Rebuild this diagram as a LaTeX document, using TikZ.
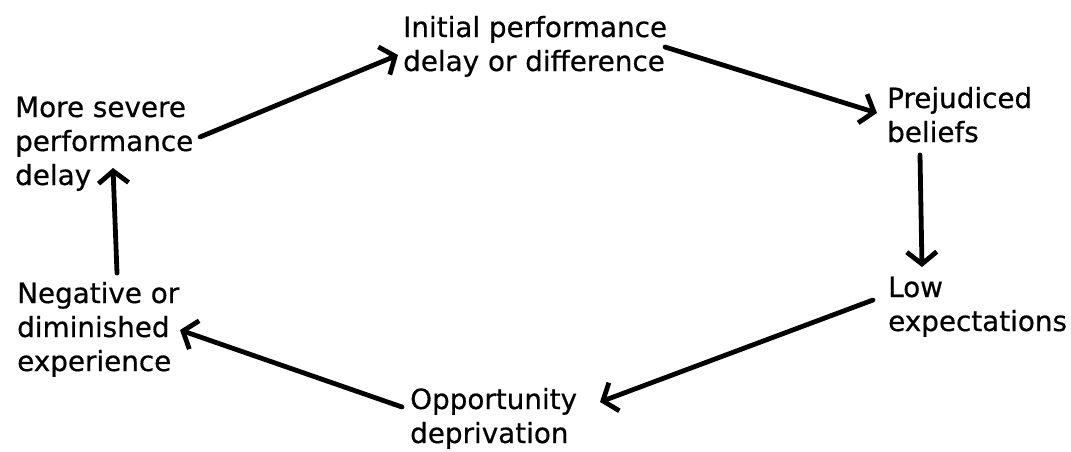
\documentclass[tikz,border=0pt]{standalone}
\usepackage{fontspec}
\setmainfont[FakeBold=0.6]{DejaVu Sans}
\usetikzlibrary{arrows.meta}
\tikzset{
  lbl/.style={anchor=base west, inner sep=0pt, font=\fontsize{27.8}{34}\selectfont},
  arr/.style={line width=4.8pt, line cap=round, -{Straight Barb[length=12pt,width=30pt,line width=4.8pt]}}
}
\newcommand{\twolines}[2]{\vtop{\hbox{#1}\hbox{#2}}}
\newcommand{\threelines}[3]{\vtop{\hbox{#1}\hbox{#2}\hbox{#3}}}
\begin{document}
\begin{tikzpicture}[x=1pt,y=-1pt]
\useasboundingbox (0,0) rectangle (1071,451);
\node[lbl] (ms) at (15,117) {\threelines{More severe}{performance}{delay}};
\node[lbl] (ip) at (403,37) {\twolines{Initial performance}{delay or difference}};
\node[lbl] (pb) at (887,108) {\twolines{Prejudiced}{beliefs}};
\node[lbl] (le) at (888,297) {\twolines{Low}{expectations}};
\node[lbl] (od) at (410,409) {\twolines{Opportunity}{deprivation}};
\node[lbl] (nd) at (17,303) {\threelines{Negative or}{diminished}{experience}};
\draw[arr] ([shift={(185,20)}]ms.base west) -- ([shift={(-5,18)}]ip.base west);
\draw[arr] ([shift={(262,10)}]ip.base west) -- ([shift={(-10,5)}]pb.base west);
\draw[arr] ([shift={(33,47)}]pb.base west) -- ([shift={(34,-30)}]le.base west);
\draw[arr] ([shift={(-15,3)}]le.base west) -- ([shift={(190,-7)}]od.base west);
\draw[arr] ([shift={(-8,-2)}]od.base west) -- ([shift={(163,27)}]nd.base west);
\draw[arr] ([shift={(100,-30)}]nd.base west) -- ([shift={(98,51)}]ms.base west);
\end{tikzpicture}
\end{document}
